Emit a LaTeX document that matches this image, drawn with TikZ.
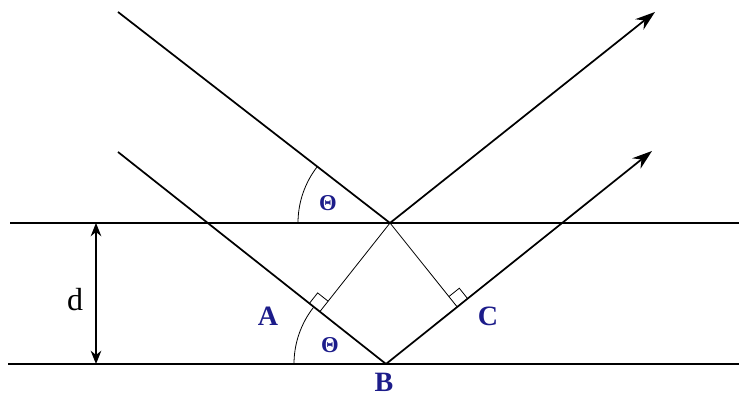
\documentclass[tikz,border=0pt]{standalone}
\usepackage{fontspec}
\setmainfont{Liberation Serif}
\definecolor{BraggNavy}{HTML}{1C1C8A}
\usetikzlibrary{positioning,arrows.meta,calc}

\begin{document}
\begin{tikzpicture}[x=0.75pt, y=0.75pt,
    ray/.style={line width=1.3pt},
    plane/.style={line width=1.1pt},
    guide/.style={line width=0.6pt},
    lbl/.style={text=BraggNavy, inner sep=1pt, font=\fontsize{21}{24}\selectfont\bfseries},
    ang/.style={text=BraggNavy, font=\fontsize{17}{19}\selectfont\bfseries}]
    \useasboundingbox (0,0) rectangle (739,398);
    % planes and rays
    \coordinate (P) at (390,175);
    \coordinate (B) at (386,34);
    \coordinate (in1) at (118,386);
    \coordinate (out1) at (655,386);
    \coordinate (in2) at (118,246);
    \coordinate (out2) at (652,247);
    \coordinate (topL) at (10,175);
    \coordinate (topR) at (739,175);
    \coordinate (botL) at (8,34);
    \coordinate (botR) at (739,34);
    \coordinate (A) at ($(in2)!(P)!(B)$);
    \coordinate (C) at ($(B)!(P)!(out2)$);
    \coordinate (dT) at (96,175);
    \coordinate (dB) at (96,34);
    \draw[plane] (topL) -- (topR);
    \draw[plane] (botL) -- (botR);
    \draw[ray] (in1) -- (P);
    \draw[ray, -{Stealth[length=15pt,width=10pt]}] (P) -- (out1);
    \draw[ray] (in2) -- (B);
    \draw[ray, -{Stealth[length=15pt,width=10pt]}] (B) -- (out2);
    \draw[guide] (P) -- (A);
    \draw[guide] (P) -- (C);
    % right angles
    \draw[guide] ($(A)!10pt!(P)$) -- ($($(A)!10pt!(P)$)+($(A)!10pt!(in2)$)-(A)$) -- ($(A)!10pt!(in2)$);
    \draw[guide] ($(C)!10pt!(P)$) -- ($($(C)!10pt!(P)$)+($(C)!10pt!(out2)$)-(C)$) -- ($(C)!10pt!(out2)$);
    % angles
    \draw[guide] ($(P)+(180:92)$) arc[start angle=180, end angle=142, radius=92];
    \draw[guide] ($(B)+(180:92)$) arc[start angle=180, end angle=142, radius=92];
    \draw[line width=0.9pt, {Stealth[length=10pt,width=8pt]}-{Stealth[length=10pt,width=8pt]}] (dT) -- (dB);
    \node[lbl] (labA) at (268,82) {A};
    \node[lbl] (labB) at (384,16) {B};
    \node[lbl] (labC) at (488,82) {C};
    \node[font=\fontsize{24}{28}\selectfont] (labd) at (75,98) {d};
    \node[ang] (th1) at (328,195) {Θ};
    \node[ang] (th2) at (330,53) {Θ};
\end{tikzpicture}
\end{document}
